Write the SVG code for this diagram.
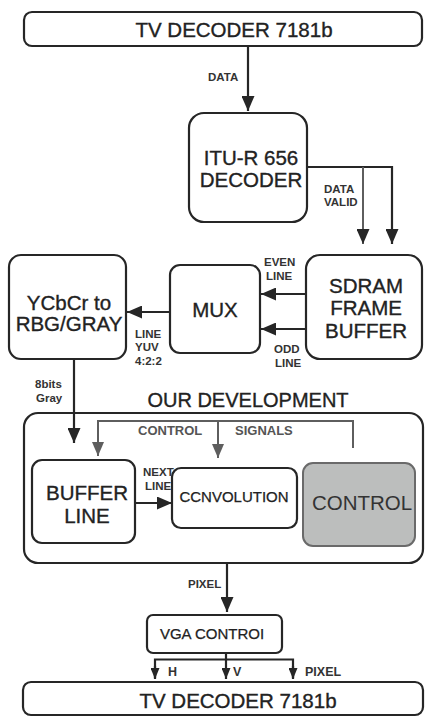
<svg xmlns="http://www.w3.org/2000/svg" width="425" height="717" viewBox="0 0 425 717">
  <defs>
    <style>
      .box { fill: #ffffff; stroke: #262626; stroke-width: 2.2; }
      .grey-box { fill: #bcbebd; stroke: #6a6a6a; stroke-width: 2; }
      .wire { fill: none; stroke: #262626; stroke-width: 2.2; }
      .wire-grey { fill: none; stroke: #5e5e5e; stroke-width: 2; }
      .big { font-family: "Liberation Sans", Arial, sans-serif; font-size: 20.5px; fill: #222; stroke: #222; stroke-width: 0.35; text-anchor: middle; }
      .mid { font-family: "Liberation Sans", Arial, sans-serif; font-size: 15px; fill: #222; stroke: #222; stroke-width: 0.25; text-anchor: middle; }
      .lbl { font-family: "Liberation Sans", Arial, sans-serif; font-size: 11.5px; fill: #333; font-weight: bold; }
    </style>
    <marker id="arrow" markerUnits="userSpaceOnUse" markerWidth="15" markerHeight="13" refX="15" refY="6.5" orient="auto">
      <path d="M0,0 L15,6.5 L0,13 z" fill="#262626"/>
    </marker>
    <marker id="arrow-grey" markerUnits="userSpaceOnUse" markerWidth="14" markerHeight="12" refX="14" refY="6" orient="auto">
      <path d="M0,0 L14,6 L0,12 z" fill="#5e5e5e"/>
    </marker>
    <marker id="arrow-small" markerUnits="userSpaceOnUse" markerWidth="11" markerHeight="9" refX="11" refY="4.5" orient="auto">
      <path d="M0,0 L11,4.5 L0,9 z" fill="#262626"/>
    </marker>
  </defs>

  <rect width="425" height="717" fill="#ffffff"/>

  <!-- connectors -->
  <g id="connectors">
    <!-- TV decoder to ITU-R 656 decoder -->
    <line class="wire" x1="248" y1="47" x2="248" y2="111" marker-end="url(#arrow)"/>
    <!-- data / valid to SDRAM -->
    <polyline class="wire" points="308,167 392,167 392,244" marker-end="url(#arrow)"/>
    <line class="wire-grey" x1="363" y1="167" x2="363" y2="244" marker-end="url(#arrow)"/>
    <!-- SDRAM to MUX: even and odd lines -->
    <line class="wire" x1="306" y1="294" x2="261" y2="294" marker-end="url(#arrow)"/>
    <line class="wire" x1="306" y1="329" x2="261" y2="329" marker-end="url(#arrow)"/>
    <!-- MUX to colour converter -->
    <line class="wire" x1="170" y1="312" x2="127" y2="312" marker-end="url(#arrow)"/>
    <!-- 8-bit gray into buffer line -->
    <line class="wire" x1="74" y1="360" x2="74" y2="443" marker-end="url(#arrow)"/>
    <!-- control signals bus -->
    <polyline class="wire-grey" points="353,448 353,421 98,421 98,456" marker-end="url(#arrow-grey)"/>
    <line class="wire-grey" x1="218" y1="421" x2="218" y2="458" marker-end="url(#arrow-grey)"/>
    <!-- next line -->
    <line class="wire" x1="135" y1="503" x2="172" y2="503" marker-end="url(#arrow)"/>
    <!-- pixel out to VGA control -->
    <line class="wire" x1="227" y1="564" x2="227" y2="612" marker-end="url(#arrow)"/>
    <!-- VGA control to TV decoder: H, V, PIXEL -->
    <line class="wire" x1="226" y1="654" x2="226" y2="660"/>
    <polyline class="wire" points="155,678 155,659.5 293,659.5 293,678"/>
    <line class="wire" x1="155" y1="666" x2="155" y2="679" marker-end="url(#arrow-small)"/>
    <line class="wire" x1="226" y1="659" x2="226" y2="679" marker-end="url(#arrow-small)"/>
    <line class="wire" x1="293" y1="666" x2="293" y2="679" marker-end="url(#arrow-small)"/>

    <!-- connector labels -->
    <text class="lbl" x="208" y="81">DATA</text>
    <text class="lbl" x="324" y="193">DATA</text>
    <text class="lbl" x="324" y="206">VALID</text>
    <text class="lbl" x="264" y="266">EVEN</text>
    <text class="lbl" x="266" y="280">LINE</text>
    <text class="lbl" x="274" y="353">ODD</text>
    <text class="lbl" x="275" y="367">LINE</text>
    <text class="lbl" x="135" y="338">LINE</text>
    <text class="lbl" x="135" y="351">YUV</text>
    <text class="lbl" x="135" y="365">4:2:2</text>
    <text class="lbl" x="35" y="388">8bits</text>
    <text class="lbl" x="36" y="402">Gray</text>
    <text class="lbl" x="138" y="435" style="font-size:13px;fill:#555">CONTROL</text>
    <text class="lbl" x="235" y="435" style="font-size:13px;fill:#555">SIGNALS</text>
    <text class="lbl" x="143" y="476">NEXT</text>
    <text class="lbl" x="145" y="490">LINE</text>
    <text class="lbl" x="188" y="588">PIXEL</text>
    <text class="lbl" x="168" y="676" style="font-size:12.5px">H</text>
    <text class="lbl" x="233" y="676" style="font-size:12.5px">V</text>
    <text class="lbl" x="305" y="676" style="font-size:12.5px">PIXEL</text>
  </g>

  <!-- top TV decoder -->
  <g id="tv-decoder-top">
    <rect class="box" x="24" y="12" width="398" height="34" rx="8"/>
    <text class="big" x="234" y="37">TV DECODER 7181b</text>
  </g>

  <!-- ITU-R 656 decoder -->
  <g id="itu-decoder">
    <rect class="box" x="189" y="113" width="118" height="109" rx="15"/>
    <text class="big" x="251" y="165">ITU-R 656</text>
    <text class="big" x="251" y="187">DECODER</text>
  </g>

  <!-- colour conversion -->
  <g id="ycbcr-converter">
    <rect class="box" x="9" y="255" width="117" height="104" rx="12"/>
    <text class="big" x="69" y="310">YCbCr to</text>
    <text class="big" x="69" y="331">RBG/GRAY</text>
  </g>

  <!-- MUX -->
  <g id="mux">
    <rect class="box" x="170" y="265" width="90" height="88" rx="10"/>
    <text class="big" x="215" y="317">MUX</text>
  </g>

  <!-- SDRAM frame buffer -->
  <g id="sdram">
    <rect class="box" x="306" y="255" width="116" height="104" rx="14"/>
    <text class="big" x="366" y="293">SDRAM</text>
    <text class="big" x="366" y="315">FRAME</text>
    <text class="big" x="366" y="338">BUFFER</text>
  </g>

  <!-- development block -->
  <g id="our-development">
    <text class="big" x="248" y="407" style="font-size:20px">OUR DEVELOPMENT</text>
    <rect class="box" x="24" y="413" width="399" height="150" rx="14" style="fill:none"/>
  </g>

  <g id="buffer-line">
    <rect class="box" x="32" y="460" width="103" height="83" rx="10"/>
    <text class="big" x="87" y="500">BUFFER</text>
    <text class="big" x="87" y="523">LINE</text>
  </g>

  <g id="convolution">
    <rect class="box" x="172" y="468" width="125" height="60" rx="9"/>
    <text class="mid" x="234" y="502">CCNVOLUTION</text>
  </g>

  <g id="control">
    <rect class="grey-box" x="303" y="463" width="112" height="83" rx="10"/>
    <text class="big" x="362" y="510" style="fill:#333;stroke:none">CONTROL</text>
  </g>

  <!-- VGA control -->
  <g id="vga-control">
    <rect class="box" x="147" y="615" width="135" height="38" rx="6"/>
    <text class="mid" x="212" y="639">VGA CONTROI</text>
  </g>

  <!-- bottom TV decoder -->
  <g id="tv-decoder-bottom">
    <rect class="box" x="23" y="682" width="400" height="33" rx="8"/>
    <text class="big" x="238" y="708">TV DECODER 7181b</text>
  </g>
</svg>
